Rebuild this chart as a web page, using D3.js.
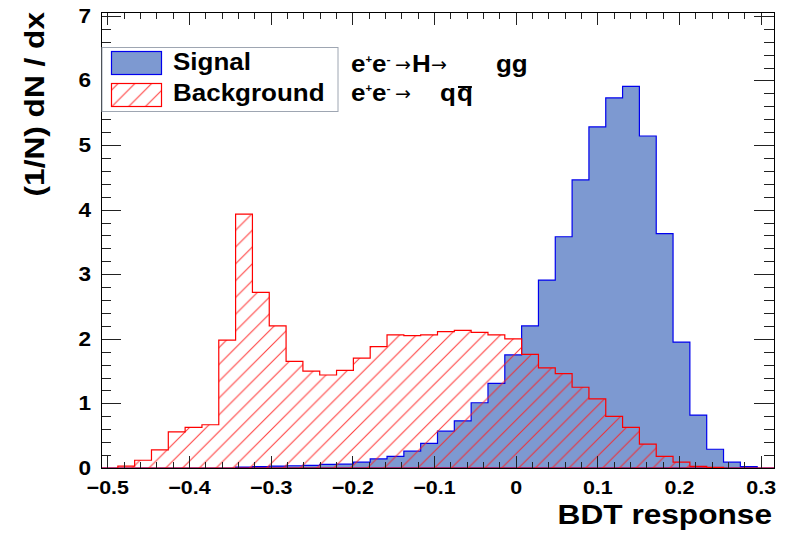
<!DOCTYPE html>
<html>
<head>
<meta charset="utf-8">
<script src="https://cdn.jsdelivr.net/npm/d3@7"></script>
<style>
  body { margin: 0; background: #fff; }
  text { font-family: "Liberation Sans", Arial, Helvetica, sans-serif; font-weight: bold; fill: #000; }
</style>
</head>
<body>
<script>
// BDT response histograms, 40 bins over the TMVA range
var xMin = -0.5077, xMax = 0.3163;
var signal = [0, 0, 0, 0, 0, 0, 0, 0, 0.015, 0.02,
  0.03, 0.035, 0.04, 0.055, 0.06, 0.09, 0.14, 0.18, 0.26, 0.38,
  0.57, 0.73, 1.01, 1.31, 1.75, 2.20, 2.91, 3.58, 4.46, 5.28,
  5.73, 5.91, 5.14, 3.63, 1.95, 0.82, 0.29, 0.09, 0.02, 0];
var background = [0, 0.03, 0.12, 0.28, 0.56, 0.63, 0.67, 1.98, 3.93, 2.72,
  2.20, 1.65, 1.50, 1.44, 1.51, 1.70, 1.88, 2.06, 2.05, 2.06,
  2.11, 2.13, 2.10, 2.06, 2.00, 1.76, 1.55, 1.46, 1.25, 1.07,
  0.80, 0.63, 0.37, 0.18, 0.09, 0.025, 0.01, 0, 0, 0];
var xTicks = [-0.5, -0.4, -0.3, -0.2, -0.1, 0, 0.1, 0.2, 0.3];
var yTicks = [0, 1, 2, 3, 4, 5, 6, 7];
var legendLabels = ["Signal", "Background"];

var svgWidth = 790, svgHeight = 536;
var margin = { top: 12, right: 16, bottom: 68, left: 101 };
var width = svgWidth - margin.left - margin.right;
var height = svgHeight - margin.top - margin.bottom;
var sx = 1.13; // ROOT fonts run wider than Liberation

var sigFill = "#7d99d1", sigLine = "#0000ee", bkgLine = "#ff0000";

var svg = d3.select("body").append("svg")
  .attr("width", svgWidth)
  .attr("height", svgHeight);

var defs = svg.append("defs");
var hatch = defs.append("pattern")
  .attr("id", "hatch")
  .attr("patternUnits", "userSpaceOnUse")
  .attr("width", 16.8)
  .attr("height", 16.8);
hatch.append("path")
  .attr("d", "M-4,4 L4,-4 M0,16.8 L16.8,0 M12.8,20.8 L20.8,12.8")
  .attr("stroke", "#ff2020")
  .attr("stroke-opacity", 0.85)
  .attr("stroke-width", 1.1);

defs.append("clipPath").attr("id", "frame")
  .append("rect").attr("width", width).attr("height", height);

var chart = svg.append("g").attr("transform", `translate(${margin.left}, ${margin.top})`);

var x = d3.scaleLinear().domain([xMin, xMax]).range([0, width]);
var y = d3.scaleLinear().domain([0, 7.06]).range([height, 0]);

var binW = (xMax - xMin) / signal.length;
function steps(vals) {
  var pts = vals.map((v, i) => ({ x: xMin + i * binW, y: v }));
  pts.push({ x: xMax, y: vals[vals.length - 1] });
  return pts;
}
var area = d3.area()
  .curve(d3.curveStepAfter)
  .x(d => x(d.x))
  .y0(y(0))
  .y1(d => y(d.y));

var plot = chart.append("g").attr("clip-path", "url(#frame)");
plot.append("path")
  .attr("d", area(steps(signal)))
  .attr("fill", sigFill)
  .attr("stroke", sigLine)
  .attr("stroke-width", 1.2);
plot.append("path")
  .attr("d", area(steps(background)))
  .attr("fill", "url(#hatch)")
  .attr("stroke", bkgLine)
  .attr("stroke-width", 1.2);

// axes: ticks drawn inward on all four sides
var minorX = d3.range(-25, 16).map(i => i * 0.02);
var minorY = d3.range(0, 36).map(i => i * 0.2);
function fmtX(d) { return Math.abs(d) < 1e-9 ? "0" : d3.format(".1f")(d); }

function tickStyle(g) {
  g.select(".domain").remove();
  g.selectAll("line").attr("stroke", "#222").attr("shape-rendering", "crispEdges");
}

chart.append("g").attr("transform", `translate(0, ${height})`)
  .call(d3.axisBottom(x).tickValues(minorX).tickSizeInner(-6.5).tickSizeOuter(0).tickFormat(""))
  .call(tickStyle);
var xAxis = chart.append("g").attr("transform", `translate(0, ${height})`)
  .call(d3.axisBottom(x).tickValues(xTicks).tickSizeInner(-12.5).tickSizeOuter(0).tickPadding(12.5).tickFormat(fmtX))
  .call(tickStyle);
xAxis.selectAll("text").style("font-size", "19px").attr("transform", `scale(${sx},1)`);

chart.append("g")
  .call(d3.axisTop(x).tickValues(minorX).tickSizeInner(-6.5).tickSizeOuter(0).tickFormat(""))
  .call(tickStyle);
chart.append("g")
  .call(d3.axisTop(x).tickValues(xTicks).tickSizeInner(-12.5).tickSizeOuter(0).tickFormat(""))
  .call(tickStyle);

chart.append("g")
  .call(d3.axisLeft(y).tickValues(minorY).tickSizeInner(-10).tickSizeOuter(0).tickFormat(""))
  .call(tickStyle);
var yAxis = chart.append("g")
  .call(d3.axisLeft(y).tickValues(yTicks).tickSizeInner(-20).tickSizeOuter(0).tickFormat(d3.format("d")))
  .call(tickStyle);
yAxis.selectAll("text").style("font-size", "20px")
  .attr("x", -10 / sx)
  .attr("transform", `scale(${sx},1)`);

chart.append("g").attr("transform", `translate(${width}, 0)`)
  .call(d3.axisRight(y).tickValues(minorY).tickSizeInner(-10).tickSizeOuter(0).tickFormat(""))
  .call(tickStyle);
chart.append("g").attr("transform", `translate(${width}, 0)`)
  .call(d3.axisRight(y).tickValues(yTicks).tickSizeInner(-20).tickSizeOuter(0).tickFormat(""))
  .call(tickStyle);

chart.append("rect")
  .attr("width", width).attr("height", height)
  .attr("fill", "none").attr("stroke", "#000").attr("stroke-width", 1)
  .attr("shape-rendering", "crispEdges");

// axis titles
function wideText(px, py, str, size, anchor, extra) {
  return svg.append("text")
    .attr("transform", `translate(${px}, ${py}) ${extra || ""} scale(${sx},1)`)
    .attr("text-anchor", anchor || "start")
    .style("font-size", size + "px")
    .text(str);
}
wideText(772, 524, "BDT response", 28, "end");
wideText(44, 12, "(1/N) dN / dx", 28, "end", "rotate(-90)");

// legend
var legend = svg.append("g");
legend.append("rect")
  .attr("x", 102).attr("y", 47.5).attr("width", 236).attr("height", 64)
  .attr("fill", "#fff").attr("stroke", "#9ea6b2").attr("stroke-width", 1);
legend.selectAll(".swatch")
  .data(legendLabels)
  .enter().append("rect")
  .attr("class", "swatch")
  .attr("x", 111.5)
  .attr("y", (d, i) => 51.5 + i * 32)
  .attr("width", 50)
  .attr("height", 23)
  .attr("fill", (d, i) => i === 0 ? sigFill : "url(#hatch)")
  .attr("stroke", (d, i) => i === 0 ? sigLine : bkgLine)
  .attr("stroke-width", 1.2);
legendLabels.forEach(function(d, i) {
  wideText(173, 70 + i * 31, d, 23);
});

// process labels
function arrow(px, py) {
  svg.append("text")
    .attr("x", px).attr("y", py - 1)
    .style("font-family", "'DejaVu Sans', sans-serif")
    .style("font-weight", "normal")
    .style("font-size", "19px")
    .text("\u2192");
}
function eplusEminus(py) {
  wideText(351, py, "", 23).call(function(t) {
    t.append("tspan").text("e");
    t.append("tspan").text("+").style("font-size", "10px").attr("dy", -9);
    t.append("tspan").text("e").attr("dy", 9);
    t.append("tspan").text("-").style("font-size", "11px").attr("dy", -9);
  });
  arrow(395, py);
}
eplusEminus(72);
eplusEminus(101);
wideText(412, 72, "H", 23);
arrow(431, 72);
wideText(496, 72, "gg", 23);
wideText(440, 101, "q", 23);
var qbar = wideText(457, 101, "q", 23);
var bb = qbar.node().getBBox();
svg.append("line")
  .attr("x1", 457 + bb.x * sx + 1).attr("x2", 457 + (bb.x + bb.width) * sx - 1)
  .attr("y1", 87).attr("y2", 87)
  .attr("stroke", "#000").attr("stroke-width", 2);
</script>
</body>
</html>
